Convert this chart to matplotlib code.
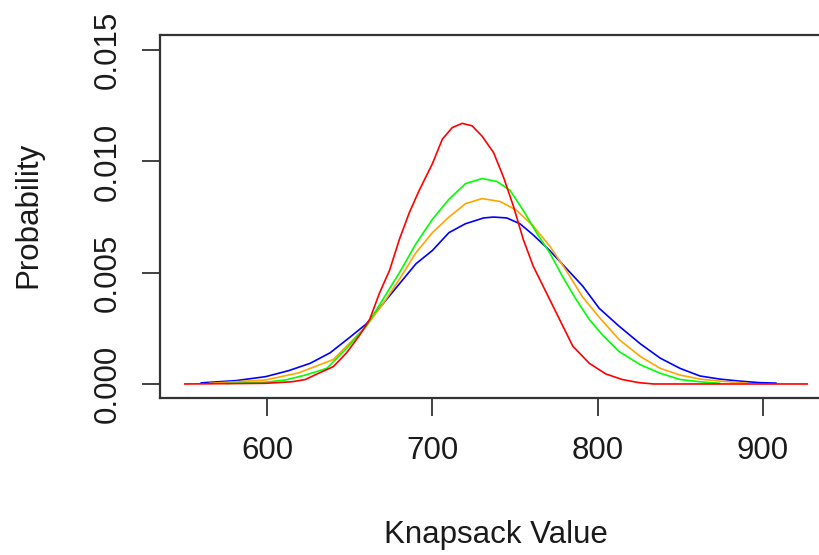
import matplotlib
matplotlib.use("Agg")
import matplotlib.pyplot as plt

# ---- data ----
blue_x = [560, 581, 599, 613, 626, 638, 650, 660, 670, 680, 690, 700, 710, 720, 731, 737, 745,
          753, 761, 771, 781, 791, 801, 813, 826, 838, 850, 862, 874, 886, 898, 908]
blue_y = [0.00005, 0.00015, 0.00033, 0.0006, 0.00093, 0.0014, 0.0021, 0.0027, 0.0036, 0.0045,
          0.0054, 0.0060, 0.0068, 0.0072, 0.00746, 0.0075, 0.00746, 0.0072, 0.0067, 0.0060,
          0.0052, 0.0044, 0.0034, 0.0026, 0.0018, 0.00116, 0.0007, 0.00036, 0.00022, 0.00013,
          0.00006, 0.00004]

orange_x = [565, 599, 619, 640, 660, 670, 680, 690, 700, 710, 720, 730, 741, 751, 761, 771, 781,
            791, 801, 813, 826, 838, 850, 862, 874, 890]
orange_y = [0.00003, 0.00018, 0.0005, 0.0011, 0.0026, 0.0036, 0.0047, 0.0059, 0.0068, 0.0075,
            0.0081, 0.00833, 0.0082, 0.0078, 0.0071, 0.0062, 0.0051, 0.0039, 0.0030, 0.0020,
            0.00123, 0.0007, 0.0004, 0.00022, 0.00013, 0.00004]

green_x = [575, 599, 611, 623, 636, 648, 660, 670, 680, 690, 700, 710, 720, 730, 739, 747, 755,
           763, 771, 779, 787, 795, 803, 813, 826, 838, 850, 862, 874]
green_y = [0.00002, 0.00008, 0.00018, 0.0004, 0.0007, 0.0016, 0.0026, 0.0038, 0.0050, 0.0063,
           0.0074, 0.0083, 0.0090, 0.00923, 0.0091, 0.0087, 0.0078, 0.0068, 0.0059, 0.0048,
           0.0038, 0.0029, 0.0022, 0.00146, 0.00086, 0.00048, 0.0002, 0.0001, 0.00003]

red_x = [550, 599, 615, 623, 631, 640, 648, 656, 662, 668, 674, 680, 686, 692, 700, 706, 712,
         718, 724, 730, 737, 743, 749, 755, 761, 767, 775, 785, 795, 805, 815, 825, 834, 927]
red_y = [0.0, 0.00003, 0.0001, 0.0002, 0.00048, 0.00078, 0.0014, 0.0022, 0.0029, 0.0041, 0.0051,
         0.0065, 0.0077, 0.0087, 0.0099, 0.0110, 0.01152, 0.01171, 0.0116, 0.01114, 0.0104,
         0.0093, 0.0080, 0.0065, 0.0053, 0.0044, 0.0032, 0.0017, 0.00093, 0.00045, 0.0002,
         0.00006, 0.0, 0.0]

x_ticks = [600, 700, 800, 900]
y_ticks = [0.000, 0.005, 0.010, 0.015]
y_tick_labels = ["0.000", "0.005", "0.010", "0.015"]
x_label = "Knapsack Value"
y_label = "Probability"

# ---- figure ----
plt.rcParams['font.family'] = ['Liberation Sans', 'DejaVu Sans']
W, H = 819, 555
fig = plt.figure(figsize=(W / 100, H / 100), dpi=100)
left, right, top, bottom = 160, 832, 35, 398
ax = fig.add_axes([left / W, 1 - bottom / H, (right - left) / W, (bottom - top) / H])

lw = 1.2
ax.plot(blue_x, blue_y, color="#0000FF", lw=lw)
ax.plot(orange_x, orange_y, color="#FFA500", lw=lw)
ax.plot(green_x, green_y, color="#00FF00", lw=lw)
ax.plot(red_x, red_y, color="#FF0000", lw=lw)

ax.set_xlim(535, 942)
ax.set_ylim(-0.00063, 0.01568)

ax.set_xticks(x_ticks)
ax.set_xticklabels([str(v) for v in x_ticks])
ax.set_yticks(y_ticks)
ax.set_yticklabels(y_tick_labels)

fs = 22.5
txt = "#1a1a1a"
for s in ax.spines.values():
    s.set_linewidth(1.6)
    s.set_color("#333333")
ax.tick_params(axis="both", direction="out", length=12.8, width=1.3, color="#333333",
               labelsize=fs, labelcolor=txt)
ax.tick_params(axis="x", pad=14.5)
ax.tick_params(axis="y", pad=14)
for lab in ax.get_yticklabels():
    lab.set_rotation(90)
    lab.set_va("center")

fig.text(496 / W, 1 - 543 / H, x_label, ha="center", va="baseline", fontsize=fs, color=txt)
fig.text(28 / W, 1 - 215 / H, y_label, ha="center", va="center", rotation=90,
         fontsize=fs, color=txt)

fig.savefig("out.png", dpi=100)
